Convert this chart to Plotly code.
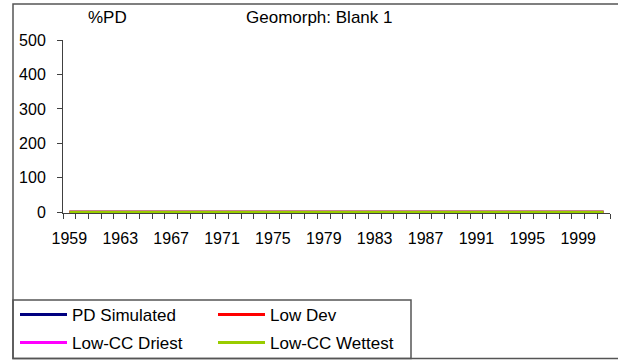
import plotly.graph_objects as go

years = list(range(1959, 2002))
pd_simulated = [0] * len(years)
low_dev = [0] * len(years)
low_cc_driest = [0] * len(years)
low_cc_wettest = [0] * len(years)

series_names = ["PD Simulated", "Low Dev", "Low-CC Driest", "Low-CC Wettest"]
series_values = [pd_simulated, low_dev, low_cc_driest, low_cc_wettest]
series_colors = ["#000080", "#FF0000", "#FF00FF", "#99CC00"]
tick_years = list(range(1959, 2000, 4))
y_ticks = [0, 100, 200, 300, 400, 500]

W, H = 618, 360
L, R, T, B = 63, 8, 40, 147
PW = W - L - R
PH = H - T - B

def px(x):
    return (x - L) / PW

def py(y):
    return (H - B - y) / PH

FONT = "Liberation Sans, Arial, sans-serif"
AX = "#404040"
ITEMW = 47

fig = go.Figure()
legend_ids = ["legend", "legend2", "legend3", "legend4"]
for name, vals, col, lg in zip(series_names, series_values, series_colors, legend_ids):
    fig.add_trace(go.Scatter(x=years, y=vals, mode="lines", name=name,
                             line=dict(color=col, width=3), legend=lg))

# legend positions (symbol start x, row center y) in pixels
leg_pos = [(20, 314), (218, 314), (20, 342), (218, 342)]
leg_layout = {}
for lg, (sx, ty) in zip(legend_ids, leg_pos):
    leg_layout[lg] = dict(
        xref="paper", yref="paper",
        x=px(sx - 5), y=py(ty - 17),
        xanchor="left", yanchor="top",
        bgcolor="rgba(0,0,0,0)", borderwidth=0, itemwidth=ITEMW,
        font=dict(family=FONT, size=17, color="#000"),
        itemclick=False, itemdoubleclick=False,
    )

fig.update_layout(
    width=W, height=H,
    margin=dict(l=L, r=R, t=T, b=B, autoexpand=False),
    paper_bgcolor="white", plot_bgcolor="white",
    showlegend=True,
    font=dict(family=FONT, size=16, color="#000"),
    **leg_layout,
    xaxis=dict(
        type="linear", range=[1958.5, 2001.5],
        tickmode="array", tickvals=tick_years, ticktext=[str(y) for y in tick_years],
        ticks="", showgrid=False, zeroline=False,
        showline=True, linecolor=AX, linewidth=1,
        ticklabelstandoff=11, tickangle=0,
        tickfont=dict(family=FONT, size=16, color="#000"),
        minor=dict(tickmode="linear", tick0=1958.5, dtick=1, ticks="outside",
                   ticklen=5, tickcolor=AX, tickwidth=1, showgrid=False),
    ),
    yaxis=dict(
        range=[-2, 500], tickmode="array", tickvals=y_ticks,
        ticks="outside", ticklen=5, tickcolor=AX, tickwidth=1,
        showgrid=False, zeroline=False,
        showline=True, linecolor=AX, linewidth=1,
        ticklabelstandoff=8,
        tickfont=dict(family=FONT, size=16, color="#000"),
    ),
    annotations=[
        dict(text="%PD", xref="paper", yref="paper", x=px(107), y=py(18),
             xanchor="center", yanchor="middle", showarrow=False,
             font=dict(family=FONT, size=17, color="#000")),
        dict(text="Geomorph: Blank 1", xref="paper", yref="paper", x=px(319), y=py(18),
             xanchor="center", yanchor="middle", showarrow=False,
             font=dict(family=FONT, size=17, color="#000")),
    ],
    shapes=[
        dict(type="rect", xref="paper", yref="paper",
             x0=px(13), x1=px(630), y0=py(358.5), y1=py(4),
             line=dict(color="#555", width=1.5), fillcolor="rgba(0,0,0,0)", layer="above"),
        dict(type="rect", xref="paper", yref="paper",
             x0=px(13), x1=px(411), y0=py(358.5), y1=py(300),
             line=dict(color="#555", width=1.5), fillcolor="rgba(0,0,0,0)", layer="above"),
    ],
)

fig.write_html("out.html")
